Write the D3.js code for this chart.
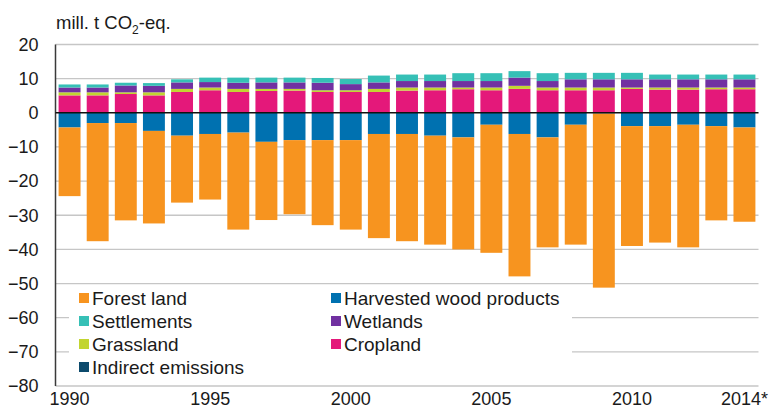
<!DOCTYPE html>
<html>
<head>
<meta charset="utf-8">
<script src="https://cdn.jsdelivr.net/npm/d3@7"></script>
<style>
	body { margin: 0; background: #fff; }
	svg text { font-family: "Liberation Sans", Arial, sans-serif; fill: #1a1a1a; }
</style>
</head>
<body>
<div id="chart_holder"></div>
<script>
//LULUCF sector emissions/removals
var years = [1990, 1991, 1992, 1993, 1994, 1995, 1996, 1997, 1998, 1999, 2000, 2001, 2002,
	2003, 2004, 2005, 2006, 2007, 2008, 2009, 2010, 2011, 2012, 2013, 2014];
var yearLabels = {1990: "1990", 1995: "1995", 2000: "2000", 2005: "2005", 2010: "2010", 2014: "2014*"};
var yTicks = [20, 10, 0, -10, -20, -30, -40, -50, -60, -70, -80];

var forestLand = [-20.1, -34.6, -28.5, -27.1, -19.6, -19.2, -28.4, -22.9, -21.7, -24.9, -26.2, -30.5, -31.4,
	-31.9, -32.8, -37.5, -41.7, -32.2, -35.1, -51.0, -35.1, -34.1, -35.9, -27.6, -27.6];
var harvestedWood = [-4.3, -3.0, -3.0, -5.3, -6.7, -6.2, -5.8, -8.5, -8.0, -8.0, -8.0, -6.2, -6.2,
	-6.7, -7.2, -3.5, -6.2, -7.2, -3.5, -0.2, -3.9, -3.9, -3.5, -3.9, -4.3];
var cropland = [5.1, 5.1, 5.5, 5.1, 6.1, 6.6, 6.1, 6.4, 6.5, 6.1, 6.1, 6.1, 6.5,
	6.6, 6.9, 6.6, 7.0, 6.6, 6.6, 6.6, 7.0, 6.8, 6.8, 6.9, 6.9];
var grassland = [0.9, 0.9, 0.5, 0.9, 0.9, 0.8, 0.9, 0.6, 0.5, 0.5, 0.5, 0.9, 0.9,
	0.8, 0.5, 0.8, 0.9, 0.8, 0.8, 0.8, 0.4, 0.6, 0.6, 0.5, 0.5];
var wetlands = [1.4, 1.4, 2.0, 1.9, 1.9, 1.6, 1.8, 1.9, 1.9, 2.2, 1.8, 1.9, 1.9,
	1.9, 1.9, 1.9, 2.4, 1.9, 2.4, 2.4, 2.4, 2.4, 2.4, 2.4, 2.4];
var settlements = [0.9, 0.9, 0.8, 0.8, 0.9, 1.3, 1.5, 1.4, 1.4, 1.4, 1.5, 2.0, 1.9,
	1.9, 2.3, 2.3, 1.9, 2.3, 1.9, 1.9, 1.9, 1.4, 1.4, 1.4, 1.4];
var indirectEmissions = [0, 0, 0, 0, 0, 0, 0, 0, 0, 0, 0, 0, 0,
	0, 0, 0, 0, 0, 0, 0, 0, 0, 0, 0, 0];

//stack order: negatives go down from zero in this order, positives go up
var series = [
	{key: "hwp", name: "Harvested wood products", values: harvestedWood, color: "#0071B0"},
	{key: "forest", name: "Forest land", values: forestLand, color: "#F7941F"},
	{key: "cropland", name: "Cropland", values: cropland, color: "#E4187A"},
	{key: "grassland", name: "Grassland", values: grassland, color: "#C2D530"},
	{key: "wetlands", name: "Wetlands", values: wetlands, color: "#7131A1"},
	{key: "settlements", name: "Settlements", values: settlements, color: "#36C0B6"},
	{key: "indirect", name: "Indirect emissions", values: indirectEmissions, color: "#0C4A6C"}
];
//legend reads row by row, two columns
var legendOrder = ["forest", "hwp", "settlements", "wetlands", "grassland", "cropland", "indirect"];

var width = 771, height = 410;
var plotLeft = 55.5, plotRight = 758.5, plotTop = 44.5, plotBottom = 386;

var rows = years.map(function(y, i){
	var r = {year: y};
	series.forEach(function(s){ r[s.key] = s.values[i]; });
	return r;
});

var stack = d3.stack()
	.keys(series.map(function(s){ return s.key; }))
	.offset(d3.stackOffsetDiverging);
var stacked = stack(rows);

var x = d3.scaleBand()
	.domain(years)
	.range([plotLeft, plotRight])
	.paddingInner(0.22)
	.paddingOuter(0.11);

var y = d3.scaleLinear()
	.domain([-80, 20])
	.range([plotBottom, plotTop]);

var svg = d3.select("#chart_holder").append("svg")
	.attr("width", width)
	.attr("height", height);

//gridlines first so the bars sit on top
svg.append("g")
	.selectAll("line")
	.data(yTicks.filter(function(t){ return t !== 0; }))
	.enter().append("line")
		.attr("x1", plotLeft)
		.attr("x2", plotRight)
		.attr("y1", function(d){ return y(d); })
		.attr("y2", function(d){ return y(d); })
		.style("stroke", "#c6c6c6")
		.style("stroke-width", 1.3);

var colorOf = {};
series.forEach(function(s){ colorOf[s.key] = s.color; });

svg.append("g")
	.selectAll("g")
	.data(stacked)
	.enter().append("g")
		.style("fill", function(d){ return colorOf[d.key]; })
	.selectAll("rect")
	.data(function(d){ return d; })
	.enter().append("rect")
		.attr("x", function(d){ return x(d.data.year); })
		.attr("width", x.bandwidth())
		.attr("y", function(d){ return y(Math.max(d[0], d[1])); })
		.attr("height", function(d){ return Math.abs(y(d[0]) - y(d[1])); });

//y axis: no ticks, just labels, then the left line
var yAxis = d3.axisLeft(y)
	.tickValues(yTicks)
	.tickSize(0)
	.tickPadding(17);
var yAxisG = svg.append("g")
	.attr("transform", "translate(" + plotLeft + ",0)")
	.call(yAxis);
yAxisG.select(".domain").remove();
yAxisG.selectAll("text")
	.style("font-size", "18px")
	.style("font-family", "'Liberation Sans', Arial, sans-serif")
	.style("fill", "#1a1a1a");

svg.append("line")
	.attr("x1", plotLeft).attr("x2", plotLeft)
	.attr("y1", plotTop).attr("y2", plotBottom)
	.style("stroke", "#3a3a3a")
	.style("stroke-width", 1.5);

//zero line goes over the bars
svg.append("line")
	.attr("x1", plotLeft).attr("x2", plotRight)
	.attr("y1", y(0)).attr("y2", y(0))
	.style("stroke", "#111")
	.style("stroke-width", 1.5);

//x axis labels, only every 5th year plus the last one
var xAxis = d3.axisBottom(x)
	.tickValues(years.filter(function(yr){ return yearLabels[yr]; }))
	.tickFormat(function(yr){ return yearLabels[yr]; })
	.tickSize(0)
	.tickPadding(6);
var xAxisG = svg.append("g")
	.attr("transform", "translate(0," + plotBottom + ")")
	.call(xAxis);
xAxisG.select(".domain").remove();
xAxisG.selectAll("text")
	.style("font-size", "18px")
	.style("font-family", "'Liberation Sans', Arial, sans-serif")
	.style("fill", "#1a1a1a");

//unit label
var unit = svg.append("text")
	.attr("x", 56)
	.attr("y", 29)
	.style("font-size", "18.5px");
unit.append("tspan").text("mill. t CO");
unit.append("tspan").text("2").attr("dy", 5).style("font-size", "12px");
unit.append("tspan").text("-eq.").attr("dy", -5);

//legend sits in a white box over the lower gridlines
var legend = svg.append("g");
legend.append("rect")
	.attr("x", 69).attr("y", 287)
	.attr("width", 503).attr("height", 96)
	.style("fill", "#fff");

var legendItems = legend.selectAll("g.item")
	.data(legendOrder.map(function(k){ return series.filter(function(s){ return s.key === k; })[0]; }))
	.enter().append("g")
		.attr("class", "item")
		.attr("transform", function(d, i){
			var col = i % 2, row = Math.floor(i / 2);
			return "translate(" + (col === 0 ? 79 : 331) + "," + (298 + row * 23) + ")";
		});

legendItems.append("rect")
	.attr("x", 0).attr("y", -5)
	.attr("width", 10).attr("height", 10)
	.style("fill", function(d){ return d.color; });

legendItems.append("text")
	.attr("x", 13)
	.attr("y", 0)
	.attr("dy", "0.35em")
	.style("font-size", "19px")
	.text(function(d){ return d.name; });
</script>
</body>
</html>
